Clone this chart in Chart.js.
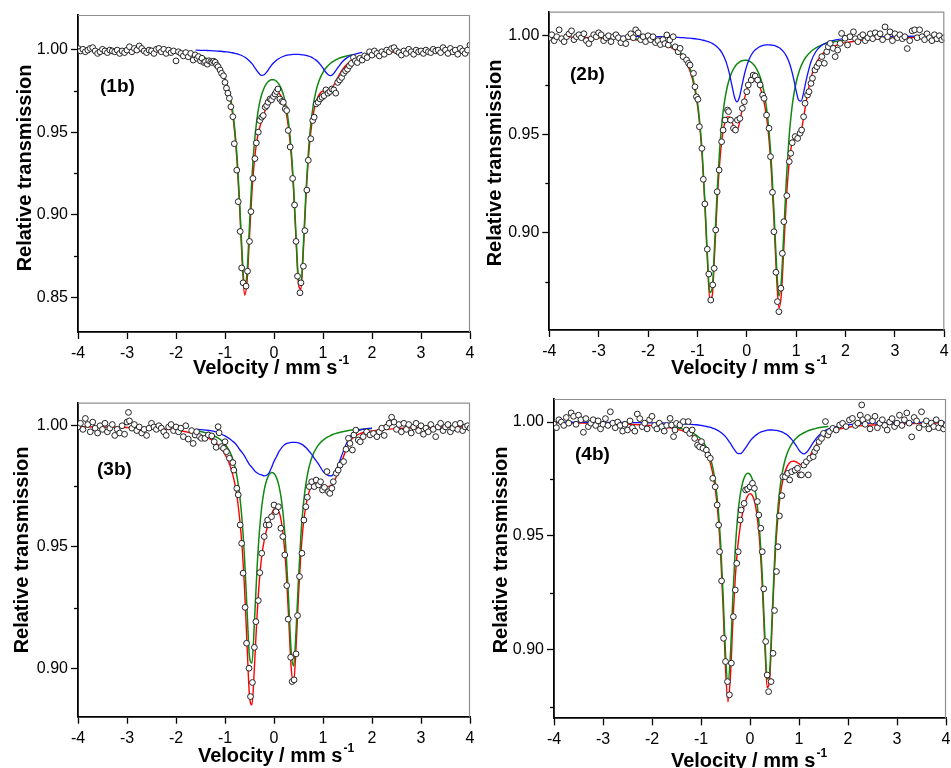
<!DOCTYPE html>
<html><head><meta charset="utf-8">
<script src="https://cdn.jsdelivr.net/npm/chart.js@4.4.1/dist/chart.umd.min.js"></script>
<style>
html,body{margin:0;padding:0;background:#fff;width:951px;height:768px;overflow:hidden}
.p{position:absolute;left:0;top:0;width:951px;height:768px}
</style></head><body>
<div class="p"><canvas id="c1" width="951" height="768"></canvas></div>
<div class="p"><canvas id="c2" width="951" height="768"></canvas></div>
<div class="p"><canvas id="c3" width="951" height="768"></canvas></div>
<div class="p"><canvas id="c4" width="951" height="768"></canvas></div>
<script>
// ---------- tick labels ----------
const velocityTicks = [-4,-3,-2,-1,0,1,2,3,4];
const transTicks1 = [0.85,0.90,0.95,1.00];
const transTicks234 = [0.90,0.95,1.00];
const panelTags = ['(1b)','(2b)','(3b)','(4b)'];

// ---------- measured spectra [velocity, relative transmission] ----------
const spectrum1 = [[-4.00,1.0005],[-3.95,0.9990],[-3.90,1.0000],[-3.85,0.9985],[-3.80,0.9995],[-3.75,1.0005],[-3.70,1.0010],[-3.65,0.9990],[-3.60,0.9975],[-3.55,0.9985],[-3.50,1.0000],[-3.45,0.9990],[-3.40,0.9980],[-3.35,0.9995],[-3.30,0.9990],[-3.25,0.9985],[-3.20,0.9995],[-3.15,0.9975],[-3.10,0.9990],[-3.05,0.9980],[-3.00,0.9995],[-2.95,1.0015],[-2.90,0.9985],[-2.85,1.0005],[-2.80,0.9995],[-2.75,1.0020],[-2.70,1.0005],[-2.65,0.9990],[-2.60,0.9980],[-2.55,0.9995],[-2.50,0.9990],[-2.45,0.9975],[-2.40,1.0000],[-2.35,1.0005],[-2.30,0.9985],[-2.25,1.0000],[-2.20,0.9975],[-2.15,0.9995],[-2.10,0.9980],[-2.05,0.9990],[-2.00,0.9930],[-1.95,0.9985],[-1.90,0.9975],[-1.85,0.9960],[-1.80,0.9980],[-1.75,0.9955],
[-1.70,0.9975],[-1.65,0.9935],[-1.61,0.9966],[-1.57,0.9945],[-1.54,0.9956],[-1.50,0.9930],[-1.47,0.9946],[-1.43,0.9920],[-1.40,0.9925],[-1.36,0.9910],[-1.33,0.9931],[-1.29,0.9925],[-1.26,0.9920],[-1.23,0.9928],[-1.20,0.9922],[-1.17,0.9905],[-1.14,0.9895],[-1.10,0.9875],[-1.07,0.9855],[-1.03,0.9840],[-1.00,0.9800],[-0.97,0.9765],[-0.94,0.9735],[-0.91,0.9704],[-0.88,0.9653],[-0.84,0.9593],[-0.81,0.9430],[-0.76,0.9270],[-0.73,0.9080],[-0.69,0.8900],[-0.66,0.8680],[-0.63,0.8590],[-0.57,0.8570],[-0.54,0.8660],[-0.50,0.8840],[-0.47,0.9020],[-0.43,0.9220],[-0.39,0.9340],[-0.36,0.9435],[-0.32,0.9500],[-0.29,0.9570],[-0.25,0.9590],[-0.22,0.9600],[-0.18,0.9650],[-0.15,0.9660],[-0.12,0.9680],[-0.08,0.9700],[-0.05,0.9695],[-0.01,0.9715],[0.02,0.9730],[0.05,0.9745],[0.08,0.9760],[0.12,0.9700],[0.16,0.9685],[0.19,0.9680],[0.23,0.9640],[0.26,0.9630],[0.29,0.9510],[0.33,0.9410],[0.38,0.9220],[0.42,0.9060],[0.45,0.8840],[0.48,0.8630],[0.53,0.8530],[0.55,0.8590],[0.60,0.8690],[0.63,0.8905],[0.67,0.9150],[0.70,0.9330],[0.75,0.9460],[0.79,0.9570],[0.82,0.9590],[0.86,0.9670],[0.90,0.9680],[0.94,0.9700],[0.98,0.9710],[1.02,0.9720],[1.06,0.9755],[1.10,0.9735],[1.14,0.9745],[1.18,0.9760],[1.22,0.9755],[1.26,0.9735],[1.30,0.9800],[1.34,0.9815],[1.38,0.9830],[1.42,0.9855],[1.46,0.9870],[1.50,0.9880],[1.54,0.9900],[1.58,0.9915],[1.62,0.9950],[1.66,0.9930],[1.70,0.9920],[1.75,0.9945],[1.80,0.9935],[1.85,0.9960],[1.90,0.9950],[1.95,0.9985],[2.00,0.9965],
[2.05,0.9990],[2.10,0.9975],[2.15,0.9960],[2.20,0.9985],[2.25,0.9970],[2.30,0.9995],[2.35,0.9985],[2.40,1.0005],[2.45,1.0010],[2.50,0.9990],[2.55,0.9980],[2.60,0.9965],[2.65,0.9990],[2.70,0.9975],[2.75,1.0000],[2.80,0.9985],[2.85,0.9970],[2.90,0.9995],[2.95,0.9985],[3.00,0.9990],[3.05,0.9975],[3.10,0.9995],[3.15,0.9985],[3.20,0.9980],[3.25,1.0000],[3.30,0.9990],[3.35,0.9995],[3.40,0.9980],[3.45,1.0010],[3.50,0.9995],[3.55,0.9975],[3.60,1.0005],[3.65,0.9985],[3.70,0.9995],[3.75,0.9970],[3.80,1.0005],[3.85,0.9990],[3.90,0.9975],[3.95,0.9995],[4.00,1.0025]];

const spectrum2 = [[-4.00,0.9990],[-3.95,1.0005],[-3.90,0.9975],[-3.85,0.9995],[-3.80,1.0030],[-3.75,0.9985],[-3.70,0.9970],[-3.65,0.9995],[-3.60,1.0010],[-3.55,1.0025],[-3.50,0.9980],[-3.45,0.9995],[-3.40,1.0005],[-3.35,0.9990],[-3.30,1.0010],[-3.25,0.9975],[-3.20,0.9960],[-3.15,0.9985],[-3.10,1.0005],[-3.05,0.9995],[-3.00,1.0015],[-2.95,1.0005],[-2.90,0.9975],[-2.85,0.9990],[-2.80,1.0000],[-2.75,0.9970],[-2.70,0.9995],[-2.65,1.0005],[-2.60,0.9990],[-2.55,0.9965],[-2.50,0.9985],[-2.45,0.9960],[-2.40,0.9995],[-2.35,1.0010],[-2.30,0.9990],[-2.25,1.0030],[-2.20,1.0015],[-2.15,0.9980],[-2.10,0.9995],[-2.05,0.9970],[-2.00,1.0000],[-1.95,0.9980],[-1.90,0.9995],[-1.85,0.9965],[-1.80,0.9975],[-1.75,0.9955],[-1.70,0.9980],[-1.66,0.9960],
[-1.62,1.0004],[-1.59,0.9953],[-1.56,0.9978],[-1.49,0.9995],[-1.45,0.9944],[-1.39,0.9919],[-1.35,0.9936],[-1.29,0.9894],[-1.22,0.9877],[-1.18,0.9860],[-1.15,0.9851],[-1.08,0.9809],[-1.05,0.9741],[-1.02,0.9690],[-0.99,0.9677],[-0.96,0.9538],[-0.91,0.9428],[-0.88,0.9271],[-0.85,0.9146],[-0.80,0.8916],[-0.77,0.8790],[-0.73,0.8658],[-0.69,0.8735],[-0.66,0.8819],[-0.63,0.9014],[-0.60,0.9208],[-0.56,0.9318],[-0.51,0.9462],[-0.48,0.9521],[-0.44,0.9572],[-0.39,0.9623],[-0.37,0.9615],[-0.33,0.9572],[-0.27,0.9530],[-0.23,0.9521],[-0.19,0.9572],[-0.14,0.9580],[-0.09,0.9631],[-0.05,0.9665],[0.00,0.9716],[0.03,0.9750],[0.09,0.9775],[0.13,0.9800],[0.17,0.9795],[0.22,0.9775],[0.27,0.9750],[0.32,0.9699],[0.35,0.9682],[0.40,0.9597],[0.45,0.9530],[0.48,0.9386],[0.52,0.9205],[0.55,0.9005],[0.59,0.8799],[0.62,0.8650],[0.65,0.8599],[0.69,0.8718],[0.72,0.8895],[0.75,0.9056],[0.81,0.9188],[0.86,0.9361],[0.89,0.9403],[0.92,0.9457],[0.98,0.9488],[1.03,0.9479],[1.08,0.9505],[1.11,0.9521],[1.15,0.9589],[1.18,0.9657],[1.23,0.9699],[1.26,0.9716],[1.30,0.9758],[1.33,0.9784],[1.38,0.9826],[1.42,0.9843],[1.46,0.9860],[1.52,0.9894],[1.57,0.9860],[1.62,0.9919],[1.65,0.9944],[1.69,0.9961],[1.75,0.9936],[1.79,0.9894],[1.84,0.9927],[1.89,0.9961],[1.92,1.0012],[1.99,0.9987],[2.04,0.9953],[2.09,0.9995],[2.16,1.0020],
[2.20,0.9985],[2.25,0.9970],[2.30,0.9995],[2.35,1.0005],[2.40,0.9975],[2.45,0.9990],[2.50,1.0010],[2.55,0.9985],[2.60,1.0015],[2.65,0.9995],[2.70,1.0010],[2.75,0.9980],[2.80,1.0045],[2.85,0.9995],[2.90,1.0020],[2.95,0.9975],[3.00,1.0010],[3.05,0.9990],[3.10,1.0005],[3.15,0.9985],[3.20,0.9995],[3.25,0.9935],[3.30,0.9975],[3.35,1.0025],[3.40,1.0030],[3.45,0.9990],[3.50,1.0030],[3.55,0.9995],[3.60,0.9980],[3.65,1.0010],[3.70,0.9990],[3.75,0.9975],[3.80,1.0005],[3.85,0.9985],[3.90,1.0000],[3.95,0.9980],[4.00,0.9990]];

const spectrum3 = [[-4.00,0.9995],[-3.95,1.0010],[-3.90,0.9985],[-3.85,1.0030],[-3.80,1.0005],[-3.75,0.9975],[-3.70,1.0015],[-3.65,0.9990],[-3.60,0.9970],[-3.55,1.0000],[-3.50,0.9985],[-3.45,1.0010],[-3.40,0.9975],[-3.35,0.9990],[-3.30,1.0005],[-3.25,0.9960],[-3.20,0.9985],[-3.15,0.9970],[-3.10,1.0000],[-3.05,0.9965],[-3.00,1.0015],[-2.97,1.0055],[-2.95,1.0020],[-2.90,0.9990],[-2.85,1.0005],[-2.80,0.9980],[-2.75,0.9995],[-2.70,0.9970],[-2.65,0.9985],[-2.60,0.9960],[-2.55,0.9990],[-2.50,1.0010],[-2.45,0.9995],[-2.40,0.9985],[-2.35,1.0000],[-2.30,0.9990],[-2.25,0.9975],[-2.20,0.9960],[-2.15,0.9995],[-2.10,1.0005],[-2.05,0.9980],[-2.00,0.9995],[-1.95,0.9975],[-1.90,0.9990],[-1.85,0.9955],[-1.80,1.0000],[-1.75,0.9945],
[-1.68,0.9980],[-1.65,0.9927],[-1.61,0.9962],[-1.58,0.9975],[-1.52,0.9955],[-1.48,0.9948],[-1.41,0.9948],[-1.34,0.9962],[-1.27,0.9958],[-1.22,0.9934],[-1.18,0.9911],[-1.14,0.9996],[-1.12,0.9971],[-1.07,0.9914],[-1.03,0.9907],[-1.00,0.9934],[-0.97,0.9893],[-0.91,0.9866],[-0.84,0.9848],[-0.82,0.9817],[-0.76,0.9742],[-0.73,0.9715],[-0.69,0.9591],[-0.66,0.9515],[-0.63,0.9392],[-0.59,0.9251],[-0.56,0.9103],[-0.51,0.9000],[-0.48,0.8883],[-0.44,0.8941],[-0.40,0.9086],[-0.37,0.9192],[-0.32,0.9279],[-0.29,0.9394],[-0.25,0.9474],[-0.20,0.9543],[-0.16,0.9591],[-0.13,0.9611],[-0.10,0.9591],[-0.05,0.9625],[0.00,0.9673],[0.04,0.9646],[0.09,0.9666],[0.14,0.9577],[0.18,0.9543],[0.22,0.9467],[0.26,0.9341],[0.29,0.9202],[0.34,0.9045],[0.37,0.8945],[0.41,0.8952],[0.45,0.9059],[0.48,0.9217],[0.52,0.9378],[0.57,0.9474],[0.61,0.9611],[0.65,0.9666],[0.68,0.9705],[0.72,0.9749],[0.77,0.9769],[0.82,0.9749],[0.86,0.9776],[0.91,0.9756],[0.95,0.9769],[0.99,0.9735],[1.03,0.9746],[1.08,0.9811],[1.11,0.9728],[1.14,0.9721],[1.18,0.9742],[1.21,0.9769],[1.27,0.9804],[1.31,0.9817],[1.35,0.9838],[1.42,0.9852],[1.47,0.9903],[1.52,0.9948],[1.55,0.9927],[1.60,0.9900],[1.63,0.9962],[1.67,0.9982],[1.72,0.9941],[1.76,0.9934],[1.82,0.9955],[1.89,0.9975],[1.96,0.9962],[2.03,0.9968],[2.10,0.9955],
[2.15,0.9975],[2.20,0.9990],[2.25,0.9960],[2.30,0.9995],[2.35,1.0010],[2.40,1.0035],[2.45,1.0015],[2.50,0.9985],[2.55,1.0005],[2.60,0.9975],[2.65,1.0010],[2.70,0.9985],[2.75,1.0005],[2.80,0.9970],[2.85,0.9995],[2.90,1.0010],[2.95,0.9980],[3.00,1.0000],[3.05,0.9965],[3.10,0.9990],[3.15,0.9975],[3.20,1.0005],[3.25,0.9985],[3.30,0.9955],[3.35,0.9995],[3.40,1.0010],[3.45,0.9980],[3.50,0.9995],[3.55,1.0005],[3.60,0.9975],[3.65,0.9990],[3.70,1.0005],[3.75,0.9985],[3.80,1.0010],[3.85,0.9980],[3.90,0.9995],[3.95,1.0000],[4.00,0.9990]];

const spectrum4 = [[-4.00,0.9990],[-3.95,0.9975],[-3.90,1.0010],[-3.85,1.0000],[-3.80,0.9985],[-3.75,1.0020],[-3.70,0.9995],[-3.65,1.0040],[-3.60,1.0025],[-3.55,0.9990],[-3.50,1.0030],[-3.45,1.0010],[-3.40,0.9955],[-3.35,1.0015],[-3.30,0.9980],[-3.25,0.9995],[-3.20,1.0010],[-3.15,0.9985],[-3.10,1.0005],[-3.05,0.9970],[-3.00,0.9990],[-2.95,1.0015],[-2.90,0.9985],[-2.85,1.0045],[-2.80,0.9995],[-2.75,0.9975],[-2.70,1.0000],[-2.65,0.9985],[-2.60,0.9960],[-2.55,0.9990],[-2.50,0.9965],[-2.45,1.0005],[-2.40,0.9975],[-2.35,0.9960],[-2.30,1.0035],[-2.25,1.0015],[-2.20,0.9980],[-2.15,0.9995],[-2.10,0.9970],[-2.05,1.0010],[-2.00,1.0025],[-1.95,0.9985],[-1.90,0.9970],[-1.85,0.9995],[-1.80,0.9980],[-1.75,0.9960],[-1.70,0.9985],
[-1.63,1.0016],[-1.60,0.9987],[-1.56,0.9936],[-1.53,0.9965],[-1.50,0.9994],[-1.43,0.9987],[-1.36,1.0002],[-1.30,0.9965],[-1.26,1.0002],[-1.23,0.9950],[-1.18,0.9965],[-1.13,0.9928],[-1.07,0.9899],[-1.03,0.9891],[-0.99,0.9914],[-0.96,0.9885],[-0.89,0.9877],[-0.86,0.9855],[-0.81,0.9841],[-0.76,0.9753],[-0.71,0.9716],[-0.67,0.9636],[-0.64,0.9548],[-0.62,0.9431],[-0.58,0.9303],[-0.54,0.9051],[-0.50,0.8949],[-0.46,0.8861],[-0.42,0.8803],[-0.38,0.8942],[-0.34,0.9146],[-0.30,0.9263],[-0.27,0.9380],[-0.24,0.9431],[-0.20,0.9570],[-0.18,0.9614],[-0.12,0.9643],[-0.09,0.9702],[-0.05,0.9706],[0.00,0.9716],[0.05,0.9731],[0.09,0.9709],[0.15,0.9651],[0.18,0.9592],[0.22,0.9534],[0.25,0.9431],[0.28,0.9268],[0.32,0.9037],[0.35,0.8890],[0.38,0.8817],[0.43,0.8861],[0.47,0.8985],[0.50,0.9173],[0.54,0.9344],[0.57,0.9453],[0.60,0.9588],[0.65,0.9677],[0.67,0.9760],[0.72,0.9760],[0.77,0.9775],[0.81,0.9746],[0.85,0.9782],[0.92,0.9789],[0.97,0.9797],[1.02,0.9768],[1.05,0.9768],[1.10,0.9811],[1.15,0.9826],[1.19,0.9768],[1.22,0.9841],[1.29,0.9848],[1.32,0.9870],[1.36,0.9885],[1.41,0.9914],[1.46,0.9928],[1.50,0.9950],[1.54,1.0002],[1.59,0.9943],[1.62,0.9958],[1.69,0.9972],[1.76,0.9965],[1.83,0.9987],[1.89,0.9994],[1.96,0.9980],[2.03,1.0009],[2.09,1.0016],
[2.15,0.9985],[2.20,0.9995],[2.25,1.0030],[2.28,1.0075],[2.30,1.0010],[2.35,0.9990],[2.40,1.0020],[2.45,0.9970],[2.50,1.0005],[2.55,1.0025],[2.60,0.9975],[2.65,0.9995],[2.70,1.0010],[2.75,0.9985],[2.80,0.9965],[2.85,1.0000],[2.90,1.0015],[2.95,0.9980],[3.00,0.9995],[3.05,1.0030],[3.10,0.9985],[3.15,1.0010],[3.20,1.0040],[3.25,0.9995],[3.30,0.9935],[3.35,1.0020],[3.40,1.0005],[3.45,0.9975],[3.50,1.0045],[3.55,0.9990],[3.60,1.0005],[3.65,0.9970],[3.70,0.9995],[3.75,0.9980],[3.80,1.0010],[3.85,0.9975],[3.90,0.9995],[3.95,0.9970],[4.00,0.9985]];

// ---------- fitted curves, read at these velocities ----------
const curveVel = [-4,-3.5,-3,-2.5,-2,-1.8,
 -1.6,-1.5,-1.4,-1.3,-1.2,-1.1,-1.0,
 -0.95,-0.9,-0.85,-0.8,-0.75,-0.7,-0.65,-0.6,-0.55,-0.5,
 -0.45,-0.4,-0.35,-0.3,-0.25,-0.2,-0.15,-0.1,-0.05,0,
 0.05,0.1,0.15,0.2,0.25,0.3,0.35,0.4,0.45,0.5,
 0.55,0.6,0.65,0.7,0.75,0.8,0.85,0.9,0.95,1.0,
 1.05,1.1,1.15,1.2,1.3,1.4,1.5,1.6,
 1.8,2,2.5,3,3.5,4];

const fitTotal1 = [0.9995,0.9994,0.9991,0.9987,0.9977,0.9970,
 0.9959,0.9950,0.9939,0.9924,0.9902,0.9868,0.9810,
 0.9767,0.9705,0.9619,0.9491,0.9303,0.9036,0.8722,0.8516,0.8595,0.8868,
 0.9137,0.9326,0.9445,0.9518,0.9570,0.9614,0.9656,0.9692,0.9720,0.9736,
 0.9741,0.9734,0.9714,0.9676,0.9614,0.9516,0.9366,0.9142,0.8846,0.8581,
 0.8551,0.8787,0.9091,0.9333,0.9498,0.9606,0.9674,0.9715,0.9738,0.9748,
 0.9748,0.9748,0.9755,0.9773,0.9829,0.9879,0.9912,0.9933,
 0.9956,0.9969,0.9984,0.9990,0.9993,0.9995];
const siteA1 = [null,null,null,null,null,null,
 0.9964,0.9956,0.9947,0.9933,0.9912,0.9880,0.9825,
 0.9783,0.9724,0.9640,0.9516,0.9332,0.9070,0.8761,0.8563,0.8652,0.8939,
 0.9224,0.9434,0.9574,0.9667,0.9728,0.9768,0.9794,0.9809,0.9816,0.9816,
 0.9807,0.9790,0.9761,0.9717,0.9651,0.9551,0.9398,0.9173,0.8877,0.8611,
 0.8583,0.8821,0.9128,0.9374,0.9545,0.9660,0.9738,0.9793,0.9832,0.9861,
 0.9884,0.9901,0.9914,0.9925,0.9942,0.9953,0.9961,0.9967,
 null,null,null,null,null,null];
const siteB1 = [null,null,null,null,null,null,
 0.9995,0.9994,0.9993,0.9992,0.9990,0.9988,0.9985,
 0.9984,0.9981,0.9979,0.9976,0.9972,0.9967,0.9961,0.9953,0.9943,0.9929,
 0.9913,0.9893,0.9871,0.9852,0.9842,0.9846,0.9862,0.9883,0.9904,0.9920,
 0.9934,0.9944,0.9952,0.9958,0.9963,0.9966,0.9968,0.9969,0.9969,0.9969,
 0.9968,0.9966,0.9963,0.9959,0.9954,0.9946,0.9936,0.9923,0.9906,0.9886,
 0.9865,0.9848,0.9841,0.9848,0.9888,0.9926,0.9951,0.9966,
 0.9981,null,null,null,null,null];

const fitTotal2 = [0.9995,0.9993,0.9990,0.9984,0.9972,0.9963,
 0.9947,0.9935,0.9918,0.9892,0.9851,0.9780,0.9647,
 0.9534,0.9371,0.9142,0.8868,0.8662,0.8681,0.8901,0.9155,0.9351,0.9480,
 0.9555,0.9588,0.9588,0.9562,0.9529,0.9520,0.9555,0.9617,0.9678,0.9723,
 0.9753,0.9769,0.9773,0.9766,0.9747,0.9714,0.9663,0.9586,0.9471,0.9298,
 0.9061,0.8789,0.8618,0.8687,0.8923,0.9163,0.9334,0.9434,0.9478,0.9484,
 0.9484,0.9514,0.9582,0.9662,0.9787,0.9858,0.9898,0.9923,
 0.9950,0.9965,0.9981,0.9988,0.9992,0.9994];
const siteA2 = [null,null,0.9992,0.9987,0.9976,0.9968,
 0.9954,0.9942,0.9926,0.9902,0.9862,0.9794,0.9664,
 0.9553,0.9392,0.9167,0.8897,0.8696,0.8720,0.8948,0.9212,0.9421,0.9568,
 0.9668,0.9736,0.9783,0.9816,0.9839,0.9856,0.9866,0.9873,0.9876,0.9875,
 0.9871,0.9863,0.9850,0.9831,0.9804,0.9766,0.9712,0.9632,0.9516,0.9345,
 0.9111,0.8843,0.8679,0.8757,0.9006,0.9265,0.9464,0.9603,0.9698,0.9764,
 0.9811,0.9846,0.9872,0.9892,0.9920,0.9938,0.9951,0.9960,
 0.9971,0.9978,null,null,null,null];
const siteB2 = [null,null,0.9998,0.9997,0.9996,0.9995,
 0.9994,0.9993,0.9992,0.9990,0.9988,0.9986,0.9983,
 0.9981,0.9978,0.9975,0.9971,0.9967,0.9961,0.9953,0.9943,0.9930,0.9912,
 0.9887,0.9852,0.9805,0.9746,0.9689,0.9664,0.9688,0.9744,0.9802,0.9848,
 0.9882,0.9906,0.9923,0.9934,0.9943,0.9948,0.9952,0.9954,0.9954,0.9953,
 0.9951,0.9946,0.9940,0.9930,0.9917,0.9898,0.9870,0.9831,0.9780,0.9720,
 0.9673,0.9668,0.9710,0.9771,0.9868,0.9920,0.9948,0.9963,
 0.9979,0.9986,0.9994,0.9996,0.9998,null];

const fitTotal3 = [0.9996,0.9995,0.9993,0.9990,0.9982,0.9975,
 0.9965,0.9960,0.9953,0.9945,0.9932,0.9912,0.9882,
 0.9862,0.9837,0.9804,0.9762,0.9701,0.9615,0.9496,0.9324,0.9095,0.8886,
 0.8849,0.9002,0.9202,0.9358,0.9463,0.9527,0.9571,0.9604,0.9635,0.9656,
 0.9658,0.9646,0.9605,0.9526,0.9394,0.9202,0.9003,0.8940,0.9083,0.9299,
 0.9476,0.9595,0.9669,0.9715,0.9745,0.9756,0.9759,0.9764,0.9759,0.9752,
 0.9750,0.9749,0.9752,0.9761,0.9803,0.9862,0.9915,0.9948,
 0.9971,0.9979,0.9988,0.9993,0.9995,0.9996];
const siteA3 = [null,null,null,null,null,null,
 0.9980,0.9976,0.9971,0.9965,0.9956,0.9944,0.9924,
 0.9910,0.9892,0.9867,0.9833,0.9784,0.9713,0.9607,0.9449,0.9239,0.9046,
 0.9021,0.9187,0.9396,0.9558,0.9666,0.9734,0.9775,0.9798,0.9807,0.9803,
 0.9786,0.9753,0.9697,0.9607,0.9468,0.9273,0.9072,0.9009,0.9152,0.9370,
 0.9551,0.9676,0.9759,0.9816,0.9855,0.9883,0.9903,0.9919,0.9931,0.9940,
 0.9948,0.9954,0.9959,0.9964,0.9970,0.9975,0.9979,0.9982,
 0.9986,0.9989,null,null,null,null];
const siteB3 = [null,null,null,null,null,null,
 0.9985,0.9984,0.9982,0.9980,0.9976,0.9968,0.9958,
 0.9952,0.9945,0.9937,0.9929,0.9917,0.9902,0.9889,0.9875,0.9856,0.9840,
 0.9828,0.9815,0.9806,0.9800,0.9797,0.9793,0.9796,0.9806,0.9828,0.9853,
 0.9872,0.9893,0.9908,0.9919,0.9926,0.9929,0.9931,0.9931,0.9931,0.9929,
 0.9925,0.9919,0.9910,0.9899,0.9887,0.9873,0.9858,0.9845,0.9828,0.9812,
 0.9802,0.9795,0.9793,0.9797,0.9833,0.9887,0.9936,0.9966,
 0.9985,0.9990,null,null,null,null];

const fitTotal4 = [0.9997,0.9996,0.9994,0.9990,0.9984,0.9980,
 0.9973,0.9969,0.9963,0.9956,0.9945,0.9930,0.9909,
 0.9893,0.9873,0.9847,0.9812,0.9762,0.9691,0.9585,0.9424,0.9191,0.8920,
 0.8772,0.8883,0.9119,0.9318,0.9452,0.9541,0.9603,0.9647,0.9675,0.9686,
 0.9677,0.9645,0.9579,0.9465,0.9283,0.9037,0.8835,0.8868,0.9104,0.9352,
 0.9531,0.9648,0.9723,0.9771,0.9801,0.9819,0.9827,0.9828,0.9824,0.9817,
 0.9812,0.9813,0.9824,0.9841,0.9882,0.9915,0.9936,0.9951,
 0.9968,0.9977,0.9987,0.9992,0.9994,0.9996];
const siteA4 = [null,null,null,null,null,null,
 0.9979,0.9975,0.9971,0.9964,0.9955,0.9943,0.9924,
 0.9910,0.9892,0.9868,0.9836,0.9790,0.9723,0.9623,0.9469,0.9245,0.8985,
 0.8850,0.8977,0.9230,0.9446,0.9590,0.9680,0.9734,0.9764,0.9775,0.9770,
 0.9748,0.9705,0.9632,0.9511,0.9325,0.9076,0.8872,0.8903,0.9139,0.9388,
 0.9569,0.9688,0.9767,0.9820,0.9857,0.9884,0.9903,0.9919,0.9930,0.9940,
 0.9947,0.9953,0.9958,0.9963,0.9969,0.9975,0.9978,0.9981,
 null,null,null,null,null,null];
const siteB4 = [0.9999,0.9999,0.9998,0.9998,0.9996,0.9996,
 0.9994,0.9994,0.9993,0.9991,0.9990,0.9988,0.9985,
 0.9983,0.9981,0.9979,0.9976,0.9972,0.9968,0.9962,0.9955,0.9946,0.9936,
 0.9922,0.9906,0.9889,0.9873,0.9862,0.9861,0.9869,0.9884,0.9900,0.9916,
 0.9929,0.9939,0.9947,0.9954,0.9958,0.9961,0.9964,0.9965,0.9965,0.9964,
 0.9963,0.9960,0.9957,0.9951,0.9945,0.9935,0.9924,0.9910,0.9894,0.9877,
 0.9865,0.9860,0.9866,0.9879,0.9913,0.9940,0.9958,0.9970,
 0.9982,0.9988,0.9995,0.9997,0.9998,0.9999];

// ---------- layout (pixels) ----------
const FONT = '"Liberation Sans", Arial, Helvetica, sans-serif';
const layouts = [
 {id:'c1', area:{l:78,t:15,r:470,b:332}, yRange:[0.8293,1.0207], tag:[100,86.5], yT:[31,168], xT:[271,374]},
 {id:'c2', area:{l:549.3,t:11.7,r:944.3,b:330}, yRange:[0.8506,1.0122], tag:[570,75], yT:[501,163], xT:[749,374]},
 {id:'c3', area:{l:78,t:402.7,r:470,b:716.7}, yRange:[0.8800,1.0095], tag:[97,470], yT:[28,550], xT:[276,762]},
 {id:'c4', area:{l:554,t:399,r:951,b:718.3}, yRange:[0.8700,1.0101], tag:[575,455], yT:[507,550], xT:[749,767]}
];
const spectra = [spectrum1, spectrum2, spectrum3, spectrum4];
const totals = [fitTotal1, fitTotal2, fitTotal3, fitTotal4];
const sitesA = [siteA1, siteA2, siteA3, siteA4];
const sitesB = [siteB1, siteB2, siteB3, siteB4];
const majorTicks = [transTicks1, transTicks234, transTicks234, transTicks234];
const minorY = [0.875, 0.925, 0.975];

function curve(ys){ return curveVel.map((x,i)=>({x:x, y:ys[i]})); }

function makeDecor(L, tag){
  return {
    id:'decor',
    afterDraw(chart){
      const {ctx, chartArea:a, scales} = chart;
      ctx.save();
      ctx.strokeStyle = '#8f8f8f'; ctx.lineWidth = 1.2;
      ctx.beginPath();
      ctx.moveTo(a.left, a.top + 0.5); ctx.lineTo(a.right - 0.5, a.top + 0.5); ctx.lineTo(a.right - 0.5, a.bottom);
      ctx.stroke();
      ctx.strokeStyle = '#000'; ctx.lineWidth = 1.3;
      minorY.forEach(v => {
        if (v < scales.y.min || v > scales.y.max) return;
        const y = Math.round(scales.y.getPixelForValue(v)) + 0.5;
        ctx.beginPath(); ctx.moveTo(a.left - 4, y); ctx.lineTo(a.left, y); ctx.stroke();
      });
      ctx.fillStyle = '#000';
      ctx.font = 'bold 19px ' + FONT; ctx.textAlign = 'left'; ctx.textBaseline = 'middle';
      ctx.fillText(tag, L.tag[0], L.tag[1]);
      ctx.save();
      ctx.translate(L.yT[0], L.yT[1]); ctx.rotate(-Math.PI/2);
      ctx.font = 'bold 20px ' + FONT; ctx.textAlign = 'center'; ctx.textBaseline = 'alphabetic';
      ctx.fillText('Relative transmission', 0, 0);
      ctx.restore();
      const main = 'Velocity / mm s', sup = '-1';
      ctx.font = 'bold 20px ' + FONT; const w1 = ctx.measureText(main).width;
      ctx.font = 'bold 12px ' + FONT; const w2 = ctx.measureText(sup).width;
      const x0 = L.xT[0] - (w1 + w2 + 1) / 2;
      ctx.textAlign = 'left'; ctx.textBaseline = 'alphabetic';
      ctx.font = 'bold 20px ' + FONT; ctx.fillText(main, x0, L.xT[1]);
      ctx.font = 'bold 12px ' + FONT; ctx.fillText(sup, x0 + w1 + 1, L.xT[1] - 10);
      ctx.restore();
    }
  };
}

layouts.forEach((L, i) => {
  const W = 951, H = 768, yW = 72, xH = 30;
  const padLeft = L.area.l - yW;
  const padRight = W - L.area.r;
  const padTop = L.area.t;
  const padBottom = H - L.area.b - xH;
  new Chart(document.getElementById(L.id), {
    type: 'scatter',
    data: { datasets: [
      { type:'scatter', data: spectra[i].map(p=>({x:p[0], y:p[1]})), pointRadius:2.9, pointBorderWidth:1,
        pointBackgroundColor:'#ffffff', pointBorderColor:'#222222', order:0 },
      { type:'line', data: curve(sitesB[i]), borderColor:'#1010ff', borderWidth:1.3, pointRadius:0,
        cubicInterpolationMode:'monotone', spanGaps:false, fill:false, order:1 },
      { type:'line', data: curve(sitesA[i]), borderColor:'#118811', borderWidth:1.5, pointRadius:0,
        cubicInterpolationMode:'monotone', spanGaps:false, fill:false, order:2 },
      { type:'line', data: curve(totals[i]), borderColor:'#ff0000', borderWidth:1.4, pointRadius:0,
        cubicInterpolationMode:'monotone', spanGaps:false, fill:false, order:3 }
    ]},
    options: {
      responsive:false, animation:false, devicePixelRatio:1,
      layout:{ padding:{ left:padLeft, right:padRight, top:padTop, bottom:padBottom } },
      plugins:{ legend:{display:false}, tooltip:{enabled:false} },
      scales:{
        x:{ type:'linear', min:-4, max:4,
          afterBuildTicks: s => { s.ticks = velocityTicks.map(v=>({value:v})); },
          afterFit: s => { s.height = xH; s.paddingLeft = 0; s.paddingRight = 0; },
          ticks:{ color:'#000', font:{family:FONT, size:16}, padding:5, maxRotation:0, autoSkip:false,
                  callback: v => String(v) },
          grid:{ display:true, drawOnChartArea:false, drawTicks:true, tickLength:7, tickWidth:1.3, tickColor:'#000' },
          border:{ display:true, color:'#000', width:1.8 } },
        y:{ type:'linear', min:L.yRange[0], max:L.yRange[1],
          afterBuildTicks: s => { s.ticks = majorTicks[i].map(v=>({value:v})); },
          afterFit: s => { s.width = yW; s.paddingTop = 0; s.paddingBottom = 0; },
          ticks:{ color:'#000', font:{family:FONT, size:16}, padding:3, autoSkip:false,
                  callback: v => v.toFixed(2) },
          grid:{ display:true, drawOnChartArea:false, drawTicks:true, tickLength:7, tickWidth:1.3, tickColor:'#000' },
          border:{ display:true, color:'#000', width:1.8 } }
      }
    },
    plugins:[ makeDecor(L, panelTags[i]) ]
  });
});
</script>
</body></html>
